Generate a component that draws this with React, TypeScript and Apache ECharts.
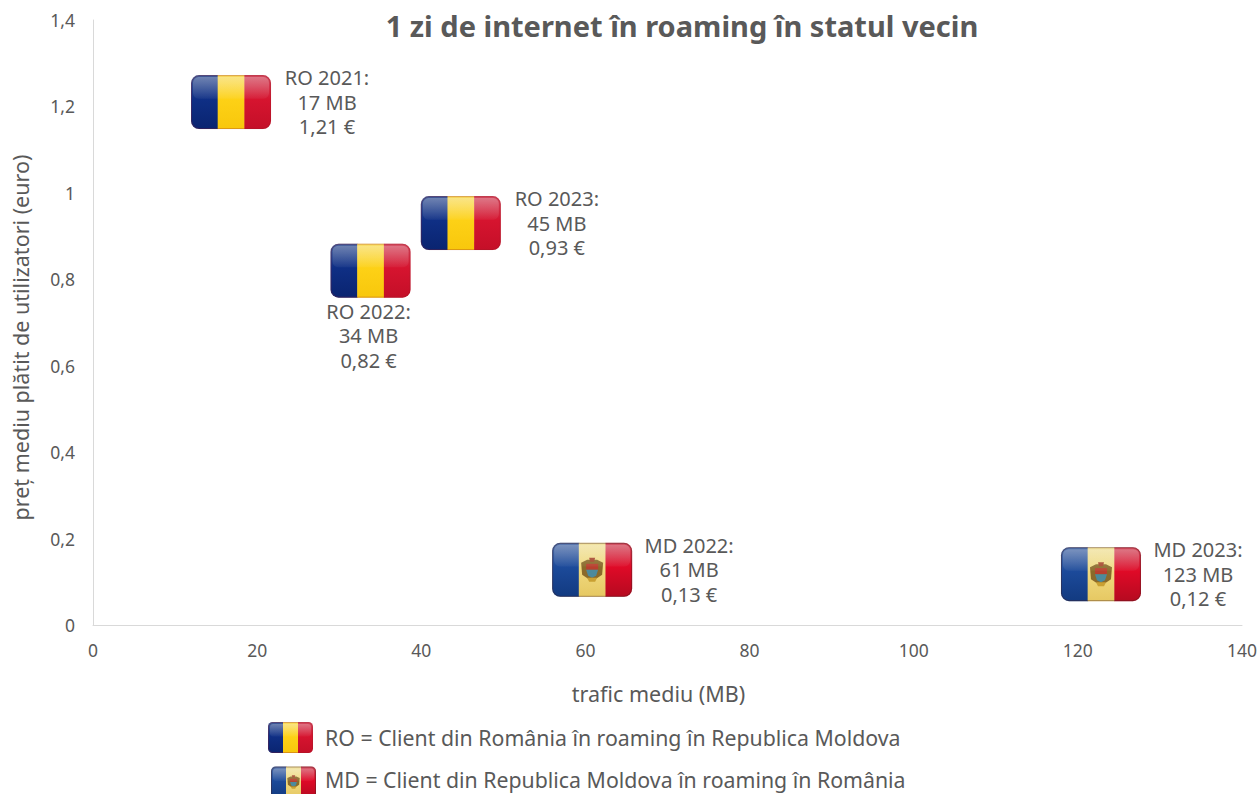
import React, { useEffect, useRef } from "react";
import * as echarts from "echarts";

const roNames = ["RO 2021:", "RO 2022:", "RO 2023:"];
const roTraffic = [17, 34, 45];
const roPrice = [1.21, 0.82, 0.93];
const roBelow = [false, true, false];

const mdNames = ["MD 2022:", "MD 2023:"];
const mdTraffic = [61, 123];
const mdPrice = [0.13, 0.12];

const title = "1 zi de internet în roaming în statul vecin";
const xName = "trafic mediu (MB)";
const yName = "preț mediu plătit de utilizatori (euro)";
const legendRo = "RO = Client din România în roaming în Republica Moldova";
const legendMd = "MD = Client din Republica Moldova în roaming în România";

const FONT = '"Noto Sans", sans-serif';
const TEXT = "#595959";

const comma = (v: number, digits?: number) =>
  (digits === undefined ? String(v) : v.toFixed(digits)).replace(".", ",");

const band = (top: string, mid: string, bottom: string) =>
  new echarts.graphic.LinearGradient(0, 0, 0, 1, [
    { offset: 0, color: top },
    { offset: 0.45, color: mid },
    { offset: 1, color: bottom },
  ]);

function flagChildren(kind: "ro" | "md", w: number, h: number): any[] {
  const t = w / 3;
  const r = (8 * w) / 80;
  const isMd = kind === "md";
  const kids: any[] = [
    {
      type: "rect",
      shape: { x: -w / 2, y: -h / 2, width: t + 0.5, height: h, r: [r, 0, 0, r] },
      style: { fill: isMd ? band("#4f6ea8", "#1c4a9a", "#123a80") : band("#3f5a98", "#0f2f85", "#0a2470") },
    },
    {
      type: "rect",
      shape: { x: -w / 2 + t, y: -h / 2, width: t + 0.5, height: h },
      style: { fill: isMd ? band("#efe09a", "#f0da80", "#e6c862") : band("#f8dc60", "#fdd116", "#f8c70c") },
    },
    {
      type: "rect",
      shape: { x: -w / 2 + 2 * t, y: -h / 2, width: t, height: h, r: [0, r, r, 0] },
      style: { fill: isMd ? band("#cf4a5c", "#df0a27", "#b50a20") : band("#d2495e", "#d6142f", "#c40f28") },
    },
  ];
  if (isMd) {
    const s = w / 80;
    kids.push(
      { type: "polygon", shape: { points: [[-11 * s, -7 * s], [-5 * s, -10 * s], [5 * s, -10 * s], [11 * s, -7 * s], [10 * s, 5 * s], [4 * s, 9 * s], [-4 * s, 9 * s], [-10 * s, 5 * s]] }, style: { fill: "#8a6a2a" } },
      { type: "polygon", shape: { points: [[-3 * s, -12 * s], [3 * s, -12 * s], [2 * s, -8 * s], [-2 * s, -8 * s]] }, style: { fill: "#a5452a" } },
      { type: "rect", shape: { x: -6 * s, y: -6 * s, width: 12 * s, height: 6 * s }, style: { fill: "#b8402e" } },
      { type: "polygon", shape: { points: [[-6 * s, 0], [6 * s, 0], [4 * s, 6 * s], [0, 8 * s], [-4 * s, 6 * s]] }, style: { fill: "#4c8a9c" } },
      { type: "polygon", shape: { points: [[-5 * s, 8 * s], [5 * s, 8 * s], [3 * s, 12 * s], [-3 * s, 12 * s]] }, style: { fill: "#c9a032" } }
    );
  }
  kids.push(
    {
      type: "rect",
      shape: { x: -w / 2 + 2, y: -h / 2 + 2, width: w - 4, height: h * 0.4, r: r * 0.7 },
      style: {
        fill: new echarts.graphic.LinearGradient(0, 0, 0, 1, [
          { offset: 0, color: "rgba(255,255,255,0.26)" },
          { offset: 1, color: "rgba(255,255,255,0.04)" },
        ]),
      },
    },
    {
      type: "rect",
      shape: { x: -w / 2 + 0.5, y: -h / 2 + 0.5, width: w - 1, height: h - 1, r },
      style: { fill: "none", stroke: isMd ? "rgba(70,30,30,0.4)" : "rgba(150,30,40,0.3)", lineWidth: 1 },
    }
  );
  return kids;
}

const pointItem = (kind: "ro" | "md", names: string[], below: boolean[]) => (params: any, api: any) => {
  const i = params.dataIndex;
  const xv = api.value(0) as number;
  const yv = api.value(1) as number;
  const [px, py] = api.coord([xv, yv]);
  const text = `${names[i]}\n${xv} MB\n${comma(yv, 2)} €`;
  return {
    type: "group",
    x: px - 1.5,
    y: py + (kind === "md" ? 1 : 0),
    children: [
      ...flagChildren(kind, 80, 54),
      {
        type: "text",
        x: below[i] ? -2 : kind === "md" ? 97 : 96,
        y: below[i] ? 65 : 0,
        style: {
          text,
          fill: TEXT,
          font: `20px ${FONT}`,
          lineHeight: 24.5,
          align: "center",
          verticalAlign: "middle",
        },
      },
    ],
  };
};

export default function App() {
  const ref = useRef<HTMLDivElement>(null);
  useEffect(() => {
    const chart = echarts.init(ref.current!, undefined, { renderer: "svg" });
    chart.setOption({
      animation: false,
      backgroundColor: "#ffffff",
      title: {
        text: title,
        left: 677,
        top: 6,
        textAlign: "center",
        textStyle: { color: TEXT, fontFamily: FONT, fontSize: 29, fontWeight: "bold" },
      },
      grid: { left: 93, right: 18, top: 20, bottom: 169, outerBoundsMode: "none" },
      xAxis: {
        type: "value",
        min: 0,
        max: 140,
        interval: 20,
        splitLine: { show: false },
        axisTick: { show: false },
        axisLine: { show: true, lineStyle: { color: "#d9d9d9", width: 1 } },
        axisLabel: { color: TEXT, fontFamily: FONT, fontSize: 17.5, margin: 16 },
        name: xName,
        nameLocation: "middle",
        nameGap: 57,
        nameTextStyle: { color: TEXT, fontFamily: FONT, fontSize: 21.5, padding: [0, 18, 0, 0] },
      },
      yAxis: {
        type: "value",
        min: 0,
        max: 1.4,
        interval: 0.2,
        splitLine: { show: false },
        axisTick: { show: false },
        axisLine: { show: true, onZero: false, lineStyle: { color: "#d9d9d9", width: 1 } },
        axisLabel: {
          color: TEXT,
          fontFamily: FONT,
          fontSize: 17.5,
          margin: 18,
          formatter: (v: number) => comma(Math.round(v * 10) / 10),
        },
        name: yName,
        nameLocation: "middle",
        nameGap: 62,
        nameTextStyle: { color: TEXT, fontFamily: FONT, fontSize: 21.5, padding: [0, 30, 0, 0] },
      },
      series: [
        {
          type: "custom",
          name: "RO",
          clip: false,
          data: roTraffic.map((x, i) => [x, roPrice[i]]),
          renderItem: pointItem("ro", roNames, roBelow),
        },
        {
          type: "custom",
          name: "MD",
          clip: false,
          data: mdTraffic.map((x, i) => [x, mdPrice[i]]),
          renderItem: pointItem("md", mdNames, mdNames.map(() => false)),
        },
      ],
      graphic: [
        { type: "group", x: 290.5, y: 737.5, children: flagChildren("ro", 45, 31) },
        { type: "group", x: 293.5, y: 782, children: flagChildren("md", 45, 31) },
        {
          type: "text",
          x: 325,
          y: 737,
          style: { text: legendRo, fill: TEXT, font: `21.3px ${FONT}`, verticalAlign: "middle" },
        },
        {
          type: "text",
          x: 325,
          y: 779.5,
          style: { text: legendMd, fill: TEXT, font: `21.3px ${FONT}`, verticalAlign: "middle" },
        },
      ],
    });
    return () => chart.dispose();
  }, []);
  return <div ref={ref} style={{ position: "absolute", left: 0, top: 0, width: 1260, height: 794 }} />;
}
